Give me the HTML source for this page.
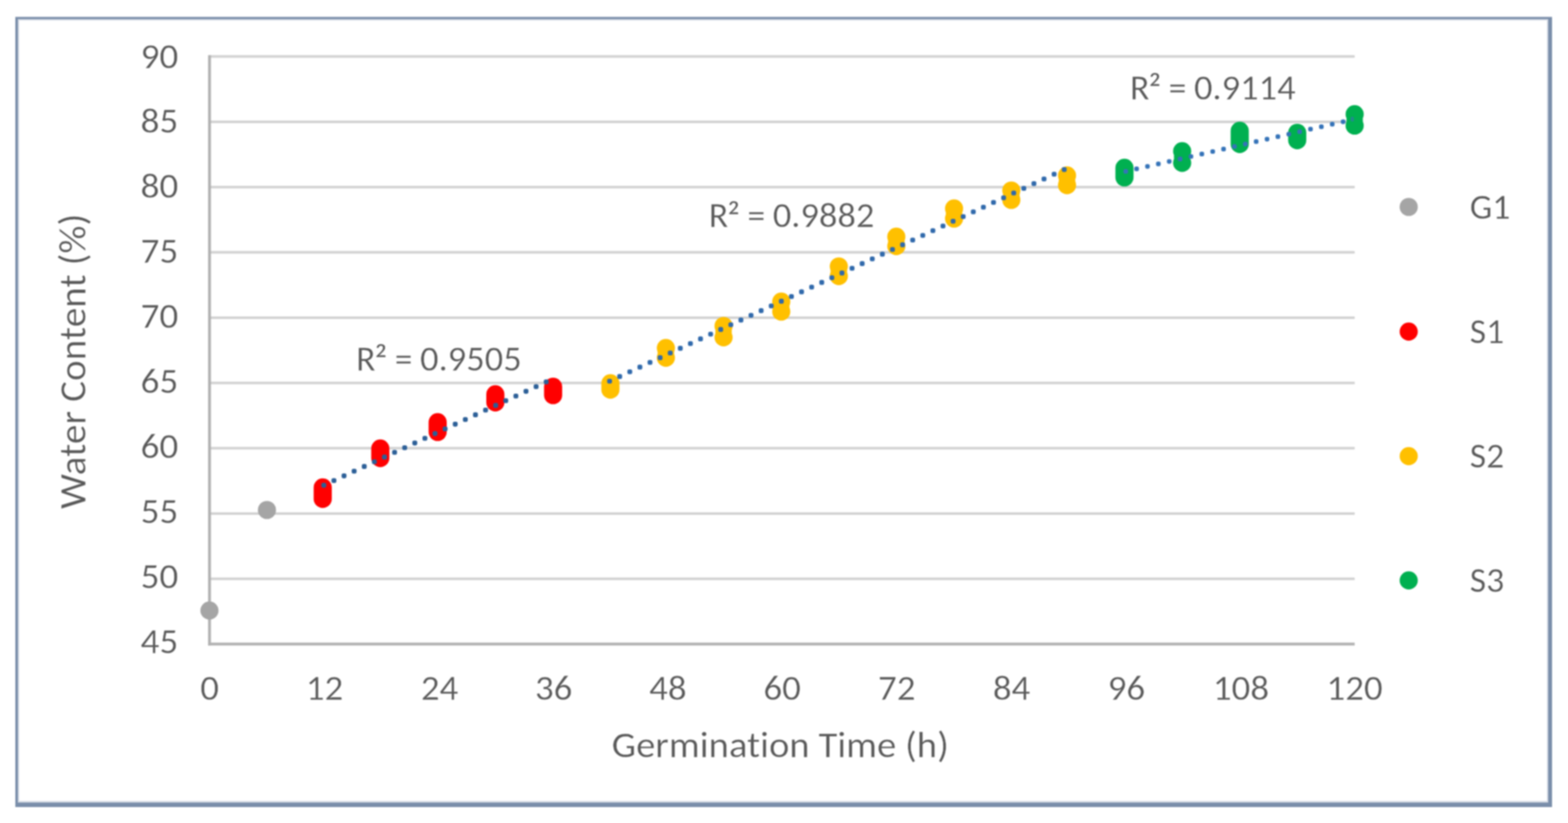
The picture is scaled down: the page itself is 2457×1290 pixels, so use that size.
<!DOCTYPE html><html><head><meta charset="utf-8"><title>Water Content vs Germination Time</title><style>html,body{margin:0;padding:0;background:#fff;}svg{display:block;}#w{filter:blur(1px);width:2457px;height:1290px;}text{font-family:Carlito, 'Liberation Sans', sans-serif;fill:#595959;font-variant-ligatures:none;stroke:#fff;stroke-width:0.4px;font-feature-settings:"liga" 0,"clig" 0;}</style></head><body>
<div id="w"><svg width="2457" height="1290" viewBox="0 0 2457 1290">
<rect x="0" y="0" width="2457" height="1290" fill="#fff"/>
<rect x="28" y="30" width="2398" height="1227.5" fill="none" stroke="#d3d9e3" stroke-width="4"/>
<path d="M24 26.5H2432V1265H24Z M28 30V1258H2426V30Z" fill="#7a8eaa" fill-rule="evenodd"/>
<line x1="328.3" y1="907.2" x2="2122.7" y2="907.2" stroke="#d2d2d2" stroke-width="4"/>
<line x1="328.3" y1="804.9" x2="2122.7" y2="804.9" stroke="#d2d2d2" stroke-width="4"/>
<line x1="328.3" y1="702.5" x2="2122.7" y2="702.5" stroke="#d2d2d2" stroke-width="4"/>
<line x1="328.3" y1="600.2" x2="2122.7" y2="600.2" stroke="#d2d2d2" stroke-width="4"/>
<line x1="328.3" y1="497.9" x2="2122.7" y2="497.9" stroke="#d2d2d2" stroke-width="4"/>
<line x1="328.3" y1="395.5" x2="2122.7" y2="395.5" stroke="#d2d2d2" stroke-width="4"/>
<line x1="328.3" y1="293.2" x2="2122.7" y2="293.2" stroke="#d2d2d2" stroke-width="4"/>
<line x1="328.3" y1="190.9" x2="2122.7" y2="190.9" stroke="#d2d2d2" stroke-width="4"/>
<line x1="328.3" y1="88.6" x2="2122.7" y2="88.6" stroke="#d2d2d2" stroke-width="4"/>
<line x1="328.3" y1="86.6" x2="328.3" y2="1011.7" stroke="#b2b2b2" stroke-width="4.5"/>
<line x1="326.1" y1="1009.5" x2="2122.7" y2="1009.5" stroke="#b2b2b2" stroke-width="4.5"/>
<text textLength="56.77" lengthAdjust="spacingAndGlyphs" transform="translate(279.5,1023.6) scale(1.045,1)" font-size="56" text-anchor="end">45</text>
<text textLength="56.77" lengthAdjust="spacingAndGlyphs" transform="translate(279.5,921.7) scale(1.045,1)" font-size="56" text-anchor="end">50</text>
<text textLength="56.77" lengthAdjust="spacingAndGlyphs" transform="translate(279.5,819.8) scale(1.045,1)" font-size="56" text-anchor="end">55</text>
<text textLength="56.77" lengthAdjust="spacingAndGlyphs" transform="translate(279.5,717.9) scale(1.045,1)" font-size="56" text-anchor="end">60</text>
<text textLength="56.77" lengthAdjust="spacingAndGlyphs" transform="translate(279.5,616.0) scale(1.045,1)" font-size="56" text-anchor="end">65</text>
<text textLength="56.77" lengthAdjust="spacingAndGlyphs" transform="translate(279.5,514.1) scale(1.045,1)" font-size="56" text-anchor="end">70</text>
<text textLength="56.77" lengthAdjust="spacingAndGlyphs" transform="translate(279.5,412.2) scale(1.045,1)" font-size="56" text-anchor="end">75</text>
<text textLength="56.77" lengthAdjust="spacingAndGlyphs" transform="translate(279.5,310.3) scale(1.045,1)" font-size="56" text-anchor="end">80</text>
<text textLength="56.77" lengthAdjust="spacingAndGlyphs" transform="translate(279.5,208.4) scale(1.045,1)" font-size="56" text-anchor="end">85</text>
<text textLength="56.77" lengthAdjust="spacingAndGlyphs" transform="translate(279.5,106.5) scale(1.045,1)" font-size="56" text-anchor="end">90</text>
<text textLength="28.37" lengthAdjust="spacingAndGlyphs" transform="translate(328.5,1096.5) scale(1.035,1)" font-size="56" text-anchor="middle">0</text>
<text textLength="56.75" lengthAdjust="spacingAndGlyphs" transform="translate(508.5,1096.5) scale(1.035,1)" font-size="56" text-anchor="middle">12</text>
<text textLength="56.75" lengthAdjust="spacingAndGlyphs" transform="translate(688.8,1096.5) scale(1.035,1)" font-size="56" text-anchor="middle">24</text>
<text textLength="56.75" lengthAdjust="spacingAndGlyphs" transform="translate(867.5,1096.5) scale(1.035,1)" font-size="56" text-anchor="middle">36</text>
<text textLength="56.75" lengthAdjust="spacingAndGlyphs" transform="translate(1046.5,1096.5) scale(1.035,1)" font-size="56" text-anchor="middle">48</text>
<text textLength="56.75" lengthAdjust="spacingAndGlyphs" transform="translate(1225.5,1096.5) scale(1.035,1)" font-size="56" text-anchor="middle">60</text>
<text textLength="56.75" lengthAdjust="spacingAndGlyphs" transform="translate(1405.2,1096.5) scale(1.035,1)" font-size="56" text-anchor="middle">72</text>
<text textLength="56.75" lengthAdjust="spacingAndGlyphs" transform="translate(1585.0,1096.5) scale(1.035,1)" font-size="56" text-anchor="middle">84</text>
<text textLength="56.75" lengthAdjust="spacingAndGlyphs" transform="translate(1765.1,1096.5) scale(1.035,1)" font-size="56" text-anchor="middle">96</text>
<text textLength="85.12" lengthAdjust="spacingAndGlyphs" transform="translate(1944.5,1096.5) scale(1.035,1)" font-size="56" text-anchor="middle">108</text>
<text textLength="85.12" lengthAdjust="spacingAndGlyphs" transform="translate(2122.6,1096.5) scale(1.035,1)" font-size="56" text-anchor="middle">120</text>
<text textLength="508.01" lengthAdjust="spacingAndGlyphs" transform="translate(1222.6,1186.8) scale(1.04,1)" font-size="58.3" text-anchor="middle">Germination Time (h)</text>
<text textLength="447.31" lengthAdjust="spacingAndGlyphs" transform="translate(133.8,566.2) rotate(-90) scale(1.035,1)" x="0" y="0" font-size="59.5" text-anchor="middle">Water Content (%)</text>
<circle cx="328.2" cy="957" r="14.2" fill="#a5a5a5"/>
<circle cx="418.3" cy="799.4" r="14.2" fill="#a5a5a5"/>
<rect x="491.50" y="749.80" width="28.40" height="46.40" rx="14.2" fill="#ff0000"/>
<rect x="581.70" y="688.80" width="28.40" height="43.40" rx="14.2" fill="#ff0000"/>
<rect x="671.60" y="647.60" width="28.40" height="43.70" rx="14.2" fill="#ff0000"/>
<rect x="762.00" y="603.80" width="28.40" height="41.10" rx="14.2" fill="#ff0000"/>
<rect x="852.50" y="592.10" width="28.40" height="41.50" rx="14.2" fill="#ff0000"/>
<rect x="942.30" y="586.60" width="28.40" height="38.30" rx="14.2" fill="#ffc000"/>
<circle cx="1043.4" cy="545.5" r="14.2" fill="#ffc000"/>
<circle cx="1043.4" cy="560.7" r="14.2" fill="#ffc000"/>
<circle cx="1043.4" cy="553.10" r="12.90" fill="#ffc000"/>
<circle cx="1133.8" cy="510.9" r="14.2" fill="#ffc000"/>
<circle cx="1133.8" cy="528.8" r="14.2" fill="#ffc000"/>
<circle cx="1133.8" cy="519.85" r="12.90" fill="#ffc000"/>
<circle cx="1224.2" cy="472.7" r="14.2" fill="#ffc000"/>
<circle cx="1224.2" cy="488.4" r="14.2" fill="#ffc000"/>
<circle cx="1224.2" cy="480.55" r="12.90" fill="#ffc000"/>
<circle cx="1314.4" cy="417.6" r="14.2" fill="#ffc000"/>
<circle cx="1314.4" cy="432.7" r="14.2" fill="#ffc000"/>
<circle cx="1314.4" cy="425.15" r="12.90" fill="#ffc000"/>
<circle cx="1404.5" cy="371" r="14.2" fill="#ffc000"/>
<circle cx="1404.5" cy="385.7" r="14.2" fill="#ffc000"/>
<circle cx="1404.5" cy="378.35" r="12.90" fill="#ffc000"/>
<circle cx="1495" cy="326.8" r="14.2" fill="#ffc000"/>
<circle cx="1495" cy="342.6" r="14.2" fill="#ffc000"/>
<circle cx="1495" cy="334.70" r="12.90" fill="#ffc000"/>
<circle cx="1584.7" cy="298.6" r="14.2" fill="#ffc000"/>
<circle cx="1584.7" cy="313.4" r="14.2" fill="#ffc000"/>
<circle cx="1584.7" cy="306.00" r="12.90" fill="#ffc000"/>
<circle cx="1672" cy="275" r="14.2" fill="#ffc000"/>
<circle cx="1672" cy="290.2" r="14.2" fill="#ffc000"/>
<circle cx="1672" cy="282.60" r="12.90" fill="#ffc000"/>
<rect x="1747.80" y="248.80" width="28.40" height="43.50" rx="14.2" fill="#00b050"/>
<circle cx="1852.4" cy="237" r="14.2" fill="#00b050"/>
<circle cx="1852.4" cy="255.2" r="14.2" fill="#00b050"/>
<circle cx="1852.4" cy="246.10" r="12.90" fill="#00b050"/>
<rect x="1928.40" y="190.80" width="28.40" height="49.10" rx="14.2" fill="#00b050"/>
<rect x="2018.50" y="193.90" width="28.40" height="40.10" rx="14.2" fill="#00b050"/>
<circle cx="2122.7" cy="179" r="14.2" fill="#00b050"/>
<circle cx="2122.7" cy="196.9" r="14.2" fill="#00b050"/>
<circle cx="2122.7" cy="187.95" r="12.90" fill="#00b050"/>
<rect x="503.60" y="756.80" width="7.6" height="7.6" rx="2.8" fill="#2c5f97"/>
<rect x="519.44" y="749.44" width="7.6" height="7.6" rx="2.8" fill="#2c5f97"/>
<rect x="535.28" y="742.07" width="7.6" height="7.6" rx="2.8" fill="#2c5f97"/>
<rect x="551.12" y="734.71" width="7.6" height="7.6" rx="2.8" fill="#2c5f97"/>
<rect x="566.96" y="727.35" width="7.6" height="7.6" rx="2.8" fill="#2c5f97"/>
<rect x="582.80" y="719.98" width="7.6" height="7.6" rx="2.8" fill="#2c5f97"/>
<rect x="598.65" y="712.62" width="7.6" height="7.6" rx="2.8" fill="#2c5f97"/>
<rect x="614.49" y="705.25" width="7.6" height="7.6" rx="2.8" fill="#2c5f97"/>
<rect x="630.33" y="697.89" width="7.6" height="7.6" rx="2.8" fill="#2c5f97"/>
<rect x="646.17" y="690.53" width="7.6" height="7.6" rx="2.8" fill="#2c5f97"/>
<rect x="662.01" y="683.16" width="7.6" height="7.6" rx="2.8" fill="#2c5f97"/>
<rect x="677.85" y="675.80" width="7.6" height="7.6" rx="2.8" fill="#2c5f97"/>
<rect x="693.69" y="668.44" width="7.6" height="7.6" rx="2.8" fill="#2c5f97"/>
<rect x="709.53" y="661.07" width="7.6" height="7.6" rx="2.8" fill="#2c5f97"/>
<rect x="725.37" y="653.71" width="7.6" height="7.6" rx="2.8" fill="#2c5f97"/>
<rect x="741.21" y="646.35" width="7.6" height="7.6" rx="2.8" fill="#2c5f97"/>
<rect x="757.05" y="638.98" width="7.6" height="7.6" rx="2.8" fill="#2c5f97"/>
<rect x="772.90" y="631.62" width="7.6" height="7.6" rx="2.8" fill="#2c5f97"/>
<rect x="788.74" y="624.25" width="7.6" height="7.6" rx="2.8" fill="#2c5f97"/>
<rect x="804.58" y="616.89" width="7.6" height="7.6" rx="2.8" fill="#2c5f97"/>
<rect x="820.42" y="609.53" width="7.6" height="7.6" rx="2.8" fill="#2c5f97"/>
<rect x="836.26" y="602.16" width="7.6" height="7.6" rx="2.8" fill="#2c5f97"/>
<rect x="852.10" y="594.80" width="7.6" height="7.6" rx="2.8" fill="#2c5f97"/>
<rect x="951.40" y="593.70" width="7.6" height="7.6" rx="2.8" fill="#3069ab"/>
<rect x="967.23" y="586.33" width="7.6" height="7.6" rx="2.8" fill="#3069ab"/>
<rect x="983.06" y="578.95" width="7.6" height="7.6" rx="2.8" fill="#3069ab"/>
<rect x="998.89" y="571.58" width="7.6" height="7.6" rx="2.8" fill="#3069ab"/>
<rect x="1014.72" y="564.21" width="7.6" height="7.6" rx="2.8" fill="#3069ab"/>
<rect x="1030.56" y="556.83" width="7.6" height="7.6" rx="2.8" fill="#3069ab"/>
<rect x="1046.39" y="549.46" width="7.6" height="7.6" rx="2.8" fill="#3069ab"/>
<rect x="1062.22" y="542.09" width="7.6" height="7.6" rx="2.8" fill="#3069ab"/>
<rect x="1078.05" y="534.71" width="7.6" height="7.6" rx="2.8" fill="#3069ab"/>
<rect x="1093.88" y="527.34" width="7.6" height="7.6" rx="2.8" fill="#3069ab"/>
<rect x="1109.71" y="519.97" width="7.6" height="7.6" rx="2.8" fill="#3069ab"/>
<rect x="1125.54" y="512.59" width="7.6" height="7.6" rx="2.8" fill="#3069ab"/>
<rect x="1141.37" y="505.22" width="7.6" height="7.6" rx="2.8" fill="#3069ab"/>
<rect x="1157.20" y="497.85" width="7.6" height="7.6" rx="2.8" fill="#3069ab"/>
<rect x="1173.04" y="490.47" width="7.6" height="7.6" rx="2.8" fill="#3069ab"/>
<rect x="1188.87" y="483.10" width="7.6" height="7.6" rx="2.8" fill="#3069ab"/>
<rect x="1204.70" y="475.73" width="7.6" height="7.6" rx="2.8" fill="#3069ab"/>
<rect x="1220.53" y="468.35" width="7.6" height="7.6" rx="2.8" fill="#3069ab"/>
<rect x="1236.36" y="460.98" width="7.6" height="7.6" rx="2.8" fill="#3069ab"/>
<rect x="1252.19" y="453.61" width="7.6" height="7.6" rx="2.8" fill="#3069ab"/>
<rect x="1268.02" y="446.23" width="7.6" height="7.6" rx="2.8" fill="#3069ab"/>
<rect x="1283.85" y="438.86" width="7.6" height="7.6" rx="2.8" fill="#3069ab"/>
<rect x="1299.68" y="431.49" width="7.6" height="7.6" rx="2.8" fill="#3069ab"/>
<rect x="1315.52" y="424.11" width="7.6" height="7.6" rx="2.8" fill="#3069ab"/>
<rect x="1331.35" y="416.74" width="7.6" height="7.6" rx="2.8" fill="#3069ab"/>
<rect x="1347.18" y="409.37" width="7.6" height="7.6" rx="2.8" fill="#3069ab"/>
<rect x="1363.01" y="401.99" width="7.6" height="7.6" rx="2.8" fill="#3069ab"/>
<rect x="1378.84" y="394.62" width="7.6" height="7.6" rx="2.8" fill="#3069ab"/>
<rect x="1394.67" y="387.25" width="7.6" height="7.6" rx="2.8" fill="#3069ab"/>
<rect x="1410.50" y="379.87" width="7.6" height="7.6" rx="2.8" fill="#3069ab"/>
<rect x="1426.33" y="372.50" width="7.6" height="7.6" rx="2.8" fill="#3069ab"/>
<rect x="1442.16" y="365.13" width="7.6" height="7.6" rx="2.8" fill="#3069ab"/>
<rect x="1458.00" y="357.75" width="7.6" height="7.6" rx="2.8" fill="#3069ab"/>
<rect x="1473.83" y="350.38" width="7.6" height="7.6" rx="2.8" fill="#3069ab"/>
<rect x="1489.66" y="343.01" width="7.6" height="7.6" rx="2.8" fill="#3069ab"/>
<rect x="1505.49" y="335.63" width="7.6" height="7.6" rx="2.8" fill="#3069ab"/>
<rect x="1521.32" y="328.26" width="7.6" height="7.6" rx="2.8" fill="#3069ab"/>
<rect x="1537.15" y="320.89" width="7.6" height="7.6" rx="2.8" fill="#3069ab"/>
<rect x="1552.98" y="313.51" width="7.6" height="7.6" rx="2.8" fill="#3069ab"/>
<rect x="1568.81" y="306.14" width="7.6" height="7.6" rx="2.8" fill="#3069ab"/>
<rect x="1584.64" y="298.77" width="7.6" height="7.6" rx="2.8" fill="#3069ab"/>
<rect x="1600.48" y="291.39" width="7.6" height="7.6" rx="2.8" fill="#3069ab"/>
<rect x="1616.31" y="284.02" width="7.6" height="7.6" rx="2.8" fill="#3069ab"/>
<rect x="1632.14" y="276.65" width="7.6" height="7.6" rx="2.8" fill="#3069ab"/>
<rect x="1647.97" y="269.27" width="7.6" height="7.6" rx="2.8" fill="#3069ab"/>
<rect x="1663.80" y="261.90" width="7.6" height="7.6" rx="2.8" fill="#3069ab"/>
<rect x="1760.40" y="265.00" width="7.2" height="7.2" rx="2.8" fill="#3573b8"/>
<rect x="1777.43" y="261.11" width="7.2" height="7.2" rx="2.8" fill="#3573b8"/>
<rect x="1794.46" y="257.22" width="7.2" height="7.2" rx="2.8" fill="#3573b8"/>
<rect x="1811.49" y="253.33" width="7.2" height="7.2" rx="2.8" fill="#3573b8"/>
<rect x="1828.52" y="249.44" width="7.2" height="7.2" rx="2.8" fill="#3573b8"/>
<rect x="1845.55" y="245.55" width="7.2" height="7.2" rx="2.8" fill="#3573b8"/>
<rect x="1862.58" y="241.66" width="7.2" height="7.2" rx="2.8" fill="#3573b8"/>
<rect x="1879.61" y="237.77" width="7.2" height="7.2" rx="2.8" fill="#3573b8"/>
<rect x="1896.64" y="233.88" width="7.2" height="7.2" rx="2.8" fill="#3573b8"/>
<rect x="1913.67" y="229.99" width="7.2" height="7.2" rx="2.8" fill="#3573b8"/>
<rect x="1930.70" y="226.10" width="7.2" height="7.2" rx="2.8" fill="#3573b8"/>
<rect x="1947.73" y="222.21" width="7.2" height="7.2" rx="2.8" fill="#3573b8"/>
<rect x="1964.76" y="218.32" width="7.2" height="7.2" rx="2.8" fill="#3573b8"/>
<rect x="1981.79" y="214.43" width="7.2" height="7.2" rx="2.8" fill="#3573b8"/>
<rect x="1998.82" y="210.54" width="7.2" height="7.2" rx="2.8" fill="#3573b8"/>
<rect x="2015.85" y="206.65" width="7.2" height="7.2" rx="2.8" fill="#3573b8"/>
<rect x="2032.88" y="202.76" width="7.2" height="7.2" rx="2.8" fill="#3573b8"/>
<rect x="2049.91" y="198.87" width="7.2" height="7.2" rx="2.8" fill="#3573b8"/>
<rect x="2066.94" y="194.98" width="7.2" height="7.2" rx="2.8" fill="#3573b8"/>
<rect x="2083.97" y="191.09" width="7.2" height="7.2" rx="2.8" fill="#3573b8"/>
<rect x="2101.00" y="187.20" width="7.2" height="7.2" rx="2.8" fill="#3573b8"/>
<rect x="2116.5" y="183" width="5" height="7.5" rx="2" fill="#3573b8" opacity="0.6"/>
<text y="580.7" font-size="56"><tspan textLength="30.41" lengthAdjust="spacingAndGlyphs" x="558">R</tspan><tspan textLength="33.73" lengthAdjust="spacingAndGlyphs" x="586.8" dy="5.5" font-size="60">² </tspan><tspan textLength="40.56" lengthAdjust="spacingAndGlyphs" x="618.6" dy="-5.5">= </tspan><tspan x="658.2" textLength="159.2" lengthAdjust="spacingAndGlyphs">0.9505</tspan></text>
<text y="356.2" font-size="56"><tspan textLength="30.41" lengthAdjust="spacingAndGlyphs" x="1110.7">R</tspan><tspan textLength="33.73" lengthAdjust="spacingAndGlyphs" x="1139.5" dy="5.5" font-size="60">² </tspan><tspan textLength="40.56" lengthAdjust="spacingAndGlyphs" x="1171.3" dy="-5.5">= </tspan><tspan x="1210.9" textLength="159.2" lengthAdjust="spacingAndGlyphs">0.9882</tspan></text>
<text y="155.6" font-size="56"><tspan textLength="30.41" lengthAdjust="spacingAndGlyphs" x="1770.7">R</tspan><tspan textLength="33.73" lengthAdjust="spacingAndGlyphs" x="1799.5" dy="5.5" font-size="60">² </tspan><tspan textLength="40.56" lengthAdjust="spacingAndGlyphs" x="1831.3" dy="-5.5">= </tspan><tspan x="1870.9" textLength="159.2" lengthAdjust="spacingAndGlyphs">0.9114</tspan></text>
<circle cx="2207.4" cy="324.4" r="14.2" fill="#a5a5a5"/>
<text textLength="63.72" lengthAdjust="spacingAndGlyphs" x="2303" y="342.8" font-size="56">G1</text>
<circle cx="2207.4" cy="519.8" r="14.2" fill="#ff0000"/>
<text textLength="54.12" lengthAdjust="spacingAndGlyphs" x="2303" y="538.2" font-size="56">S1</text>
<circle cx="2207.4" cy="715.0" r="14.2" fill="#ffc000"/>
<text textLength="54.12" lengthAdjust="spacingAndGlyphs" x="2303" y="733.4" font-size="56">S2</text>
<circle cx="2207.4" cy="909.8" r="14.2" fill="#00b050"/>
<text textLength="54.12" lengthAdjust="spacingAndGlyphs" x="2303" y="928.2" font-size="56">S3</text>
</svg></div></body></html>
